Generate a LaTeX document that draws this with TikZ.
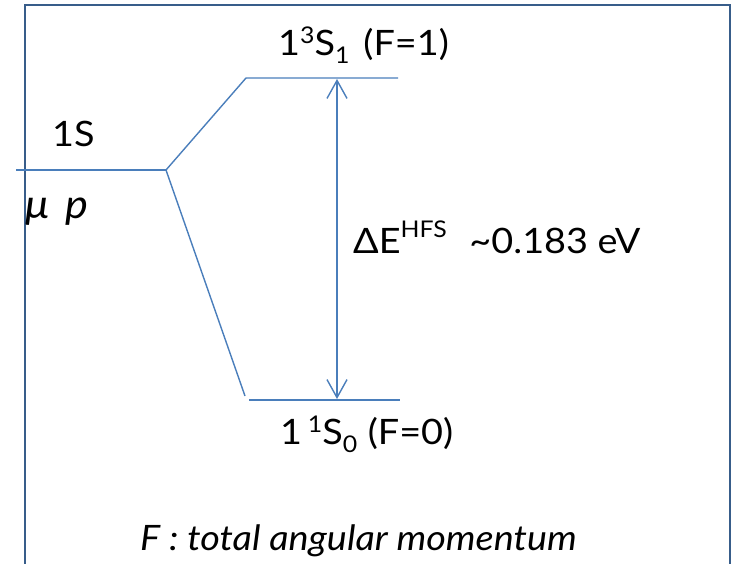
\documentclass[tikz,border=0pt]{standalone}
\usepackage{fontspec}
\setmainfont{Lato}[FakeStretch=1.08]
\usepackage{xcolor}
\definecolor{clLevel}{HTML}{4A7EBB}
\definecolor{clFrame}{HTML}{385D8A}
\usetikzlibrary{arrows.meta,positioning}
\newcommand\upidx[2][12pt]{\raisebox{#1}{\fontsize{23}{27}\selectfont #2}}
\newcommand\dnidx[1]{\raisebox{-8pt}{\fontsize{23}{27}\selectfont #1}}
\tikzset{
  level/.style={draw=clLevel, line width=1.4pt},
  gap/.style={level, {Straight Barb[length=18pt,width=20pt]}-{Straight Barb[length=18pt,width=20pt]}},
  frame/.style={draw=clFrame, line width=2.6pt},
  lbl/.style={inner sep=0pt, anchor=base west, font=\fontsize{35}{42}\selectfont},
}

\begin{document}
\begin{tikzpicture}[x=1pt, y=-1pt]
  \useasboundingbox (0,0) rectangle (734,563);

  % frame (open at the bottom)
  \coordinate (fbl) at (25,575);
  \coordinate (ftl) at (25,5);
  \coordinate (ftr) at (730,5);
  \coordinate (fbr) at (730,575);
  \draw[frame] (fbl) -- (ftl) -- (ftr) -- (fbr);

  % 1S level and splitting
  \coordinate (s0) at (16,170);
  \coordinate (split) at (166,170);
  \coordinate (upL) at (246,78);
  \coordinate (upR) at (398,78);
  \coordinate (loE) at (245,396);
  \coordinate (loL) at (249,400);
  \coordinate (loR) at (400,400);
  \draw[level] (s0) -- (split);
  \draw[level] (split) -- (upL) -- (upR);
  \draw[level] (split) -- (loE);
  \draw[level] (loL) -- (loR);

  % hyperfine gap
  \coordinate (gTop) at (337,79);
  \coordinate (gBot) at (337,399);
  \draw[gap] (gTop) -- (gBot);

  % labels
  \node[lbl] (tS1) at (278,55) {1\upidx{3}S\dnidx{1}\hspace{0.4em}(F=1)};
  \node[lbl] (tS0) at (280,444) {1\,\upidx{1}S\dnidx{0}\hspace{0.3em}(F=0)};
  \node[lbl] (t1s) at (52,146) {1S};
  \node[lbl, font=\fontsize{40}{46}\selectfont] (tmu) at (25,218) {\textit{μ\hspace{0.4em}p}};
  \node[lbl] (tdE) at (353,253) {ΔE\upidx[16pt]{HFS}\hspace{0.65em}\textasciitilde0.183 eV};
  \node[lbl] (tF) at (140,550) {\textit{F : total angular momentum}};
\end{tikzpicture}
\end{document}
